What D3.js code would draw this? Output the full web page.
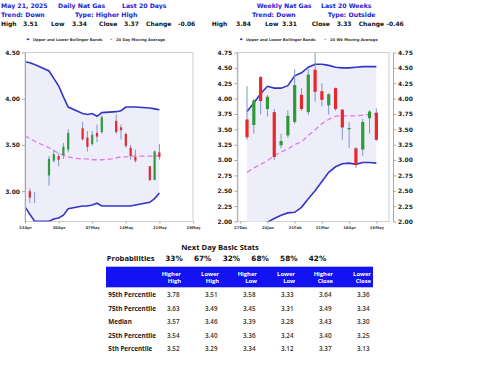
<!DOCTYPE html>
<html>
<head>
<meta charset="utf-8">
<script src="https://cdn.jsdelivr.net/npm/d3@7"></script>
<style>
  body { margin: 0; background: #fff; }
  svg { display: block; font-family: "DejaVu Sans", Verdana, sans-serif; }
</style>
</head>
<body>
<script>
// daily candles (last 20 days)
const dailyDates = ['2025-04-23','2025-04-24','2025-04-25','2025-04-28','2025-04-29','2025-04-30','2025-05-01','2025-05-02',
  '2025-05-05','2025-05-06','2025-05-07','2025-05-08','2025-05-09','2025-05-12','2025-05-13','2025-05-14','2025-05-15',
  '2025-05-16','2025-05-19','2025-05-20','2025-05-21'];
const dailyOpen  = [3.05, 3.00, 2.92, 3.17, 3.33, 3.38, 3.39, 3.45, 3.68, 3.58, 3.51, 3.63, 3.64, 3.76, 3.69, 3.62, 3.47, 3.37, 3.27, 3.12, 3.42];
const dailyHigh  = [3.06, 3.03, 2.99, 3.38, 3.45, 3.41, 3.52, 3.67, 3.75, 3.65, 3.65, 3.72, 3.82, 3.83, 3.72, 3.63, 3.50, 3.45, 3.27, 3.44, 3.51];
const dailyLow   = [3.00, 2.87, 2.87, 3.06, 3.31, 3.27, 3.35, 3.42, 3.55, 3.43, 3.49, 3.53, 3.62, 3.62, 3.56, 3.47, 3.34, 3.31, 3.11, 3.12, 3.34];
const dailyClose = [3.02, 2.93, 2.92, 3.35, 3.40, 3.34, 3.48, 3.63, 3.56, 3.48, 3.61, 3.59, 3.80, 3.64, 3.66, 3.49, 3.38, 3.33, 3.12, 3.43, 3.37];
const dailyUpper = [4.40, 4.39, 4.37, 4.30, 4.22, 4.14, 4.02, 3.91, 3.84, 3.83, 3.84, 3.81, 3.85, 3.86, 3.87, 3.91, 3.91, 3.91, 3.90, 3.89, 3.88];
const dailyLower = [2.83, 2.75, 2.675, 2.675, 2.70, 2.71, 2.74, 2.81, 2.84, 2.84, 2.85, 2.87, 2.84, 2.84, 2.84, 2.84, 2.84, 2.85, 2.88, 2.92, 2.98];
const dailyMA    = [3.60, 3.57, 3.54, 3.47, 3.44, 3.41, 3.39, 3.37, 3.35, 3.35, 3.34, 3.34, 3.34, 3.36, 3.37, 3.37, 3.38, 3.38, 3.38, 3.38, 3.39];
const dailyTicks = ['2025-04-23','2025-04-30','2025-05-07','2025-05-14','2025-05-21','2025-05-28'];
const dailyYTicks = [3.00, 3.50, 4.00, 4.50];

// weekly candles (last 20 weeks)
const weeklyDates = ['2025-01-03','2025-01-10','2025-01-17','2025-01-24','2025-01-31','2025-02-07','2025-02-14','2025-02-21',
  '2025-02-28','2025-03-07','2025-03-14','2025-03-21','2025-03-28','2025-04-04','2025-04-11','2025-04-18','2025-04-25',
  '2025-05-02','2025-05-09','2025-05-16'];
const weeklyOpen  = [3.66, 3.57, 4.35, 3.83, 3.78, 3.24, 3.40, 3.62, 4.06, 3.78, 4.47, 4.12, 3.89, 4.17, 3.82, 3.50, 3.19, 3.17, 3.68, 3.77];
const weeklyHigh  = [4.20, 4.00, 4.37, 4.06, 3.83, 3.43, 3.81, 4.48, 4.17, 4.48, 4.82, 4.25, 4.09, 4.18, 3.83, 3.62, 3.21, 3.67, 3.81, 3.84];
const weeklyLow   = [3.33, 3.43, 3.74, 3.71, 3.00, 3.19, 3.36, 3.59, 3.80, 3.73, 3.95, 3.87, 3.74, 3.80, 3.33, 3.19, 2.87, 3.07, 3.43, 3.31];
const weeklyClose = [3.37, 3.97, 3.96, 4.03, 3.05, 3.31, 3.72, 4.22, 3.83, 4.39, 4.11, 3.98, 4.07, 3.83, 3.53, 3.52, 2.92, 3.62, 3.79, 3.33];
const weeklyUpper = [3.79, 3.93, 4.08, 4.20, 4.17, 4.17, 4.21, 4.37, 4.42, 4.51, 4.56, 4.56, 4.54, 4.51, 4.50, 4.50, 4.51, 4.52, 4.52, 4.52];
const weeklyLower = [1.62, 1.76, 1.88, 1.99, 2.05, 2.10, 2.14, 2.15, 2.23, 2.37, 2.50, 2.65, 2.80, 2.89, 2.94, 2.95, 2.93, 2.96, 2.96, 2.95];
const weeklyMA    = [2.80, 2.87, 2.93, 2.99, 3.07, 3.13, 3.18, 3.25, 3.30, 3.40, 3.49, 3.59, 3.66, 3.71, 3.72, 3.72, 3.72, 3.73, 3.74, 3.75];
const weeklyTicks = ['2024-12-27','2025-01-24','2025-02-21','2025-03-21','2025-04-18','2025-05-16'];
const weeklyYTicks = [2.00, 2.25, 2.50, 2.75, 3.00, 3.25, 3.50, 3.75, 4.00, 4.25, 4.50, 4.75];

// header figures
const dailyTitle = ['May 21, 2025', 'Daily Nat Gas', 'Last 20 Days', 'Trend: Down', 'Type: Higher High'];
const weeklyTitle = ['Weekly Nat Gas', 'Last 20 Weeks', 'Trend: Down', 'Type: Outside'];
const dailySummary = [['High', '3.51'], ['Low', '3.34'], ['Close', '3.37'], ['Change', '-0.06']];
const weeklySummary = [['High', '3.84'], ['Low', '3.31'], ['Close', '3.33'], ['Change', '-0.46']];

// next day stats
const probabilities = ['33%', '67%', '32%', '68%', '58%', '42%'];
const statColumns = [['Higher', 'High'], ['Lower', 'High'], ['Higher', 'Low'], ['Lower', 'Low'], ['Higher', 'Close'], ['Lower', 'Close']];
const statRows = ['95th Percentile', '75th Percentile', 'Median', '25th Percentile', '5th Percentile'];
const statValues = [
  ['3.78', '3.51', '3.58', '3.33', '3.64', '3.36'],
  ['3.63', '3.49', '3.45', '3.31', '3.49', '3.34'],
  ['3.57', '3.46', '3.39', '3.28', '3.43', '3.30'],
  ['3.54', '3.40', '3.36', '3.24', '3.40', '3.25'],
  ['3.52', '3.29', '3.34', '3.12', '3.37', '3.13']
];

const blue = '#2222d8';
const parse = d3.timeParse('%Y-%m-%d');
const fmtDay = d3.timeFormat('%d%b');

const svg = d3.select('body').append('svg')
  .attr('width', 480)
  .attr('height', 371);

function styleAxis(g, size) {
  g.attr('font-family', null).attr('font-size', null);
  g.selectAll('.domain').attr('stroke', '#a8a8a8');
  g.selectAll('.tick line').attr('stroke', '#a8a8a8');
  g.selectAll('.tick text')
    .attr('fill', '#222')
    .style('font-size', size + 'px')
    .style('font-weight', 'bold');
}

function panel(o) {
  const dates = o.dates.map(parse);
  const idx = d3.range(dates.length);
  const x = d3.scaleTime().domain(o.xDomain.map(parse)).range([o.left, o.right]);
  const y = d3.scaleLinear().domain(o.yDomain).range([o.bottom, o.top]);

  svg.append('clipPath').attr('id', o.id)
    .append('rect')
    .attr('x', o.left).attr('y', o.top)
    .attr('width', o.right - o.left).attr('height', o.bottom - o.top);

  svg.append('rect')
    .attr('x', o.left).attr('y', o.top)
    .attr('width', o.right - o.left).attr('height', o.bottom - o.top)
    .attr('fill', '#fff')
    .attr('stroke', '#cfcfcf')
    .attr('stroke-width', 1);

  const plot = svg.append('g').attr('clip-path', 'url(#' + o.id + ')');

  plot.append('path').datum(idx)
    .attr('d', d3.area().x(i => x(dates[i])).y0(i => y(o.lower[i])).y1(i => y(o.upper[i])))
    .attr('fill', '#eeeefb');

  [o.upper, o.lower].forEach(band => {
    plot.append('path').datum(idx)
      .attr('d', d3.line().x(i => x(dates[i])).y(i => y(band[i])))
      .attr('fill', 'none')
      .attr('stroke', '#3434c6')
      .attr('stroke-width', 1.6);
  });

  plot.append('path').datum(idx)
    .attr('d', d3.line().curve(d3.curveMonotoneX).x(i => x(dates[i])).y(i => y(o.ma[i])))
    .attr('fill', 'none')
    .attr('stroke', '#e27ae6')
    .attr('stroke-width', 1.3)
    .attr('stroke-dasharray', '5,3');

  plot.selectAll('.wick').data(idx).join('line')
    .attr('class', 'wick')
    .attr('x1', i => x(dates[i])).attr('x2', i => x(dates[i]))
    .attr('y1', i => y(o.high[i])).attr('y2', i => y(o.low[i]))
    .attr('stroke', '#7c98c8')
    .attr('stroke-width', 1);

  plot.selectAll('.body').data(idx).join('rect')
    .attr('class', 'body')
    .attr('x', i => x(dates[i]) - o.bodyW / 2)
    .attr('width', o.bodyW)
    .attr('y', i => y(Math.max(o.open[i], o.close[i])))
    .attr('height', i => Math.abs(y(o.open[i]) - y(o.close[i])))
    .attr('fill', i => o.close[i] >= o.open[i] ? '#2f9a3c' : '#e8262b');

  const yFmt = d3.format('.2f');
  if (o.leftAxis) {
    svg.append('g')
      .attr('transform', 'translate(' + o.left + ',0)')
      .call(d3.axisLeft(y).tickValues(o.yTicks).tickFormat(yFmt).tickSize(3).tickSizeOuter(0).tickPadding(2))
      .call(g => styleAxis(g, 6));
  }
  if (o.rightAxis) {
    svg.append('g')
      .attr('transform', 'translate(' + o.rightAxis + ',0)')
      .call(d3.axisRight(y).tickValues(o.yTicks).tickFormat(yFmt).tickSize(3).tickSizeOuter(0).tickPadding(2))
      .call(g => styleAxis(g, 6));
  }
  svg.append('g')
    .attr('transform', 'translate(0,' + o.bottom + ')')
    .call(d3.axisBottom(x).tickValues(o.xTicks.map(parse)).tickFormat(fmtDay).tickSize(2).tickSizeOuter(0).tickPadding(3))
    .call(g => { styleAxis(g, 3.8); g.select('.domain').remove(); g.selectAll('.tick text').attr('fill', '#444'); });

  // legend
  svg.append('line')
    .attr('x1', o.legendX[0]).attr('x2', o.legendX[0] + 2.5)
    .attr('y1', 39.3).attr('y2', 39.3)
    .attr('stroke', '#3434c6').attr('stroke-width', 1.6);
  svg.append('line')
    .attr('x1', o.legendX[2]).attr('x2', o.legendX[2] + 1.6)
    .attr('y1', 39.3).attr('y2', 39.3)
    .attr('stroke', '#e27ae6').attr('stroke-width', 1.3);
  [[o.legendX[1], 'Upper and Lower Bollinger Bands'], [o.legendX[3], o.maLabel]].forEach(d => {
    svg.append('text')
      .attr('x', d[0]).attr('y', 40.6)
      .attr('fill', '#333')
      .style('font-size', '3.7px')
      .style('font-weight', 'bold')
      .text(d[1]);
  });
}

panel({
  id: 'clipDaily', left: 25, right: 193, top: 52.5, bottom: 221.5,
  xDomain: ['2025-04-23', '2025-05-28'], yDomain: [2.672, 4.5],
  dates: dailyDates, open: dailyOpen, high: dailyHigh, low: dailyLow, close: dailyClose,
  upper: dailyUpper, lower: dailyLower, ma: dailyMA,
  xTicks: dailyTicks, yTicks: dailyYTicks, bodyW: 2.2,
  leftAxis: true, rightAxis: null,
  legendX: [26.7, 33, 110.5, 116], maLabel: '20 Day Moving Average'
});

panel({
  id: 'clipWeekly', left: 237.3, right: 389, top: 52.5, bottom: 221.5,
  xDomain: ['2024-12-24', '2025-05-29'], yDomain: [2.0, 4.75],
  dates: weeklyDates, open: weeklyOpen, high: weeklyHigh, low: weeklyLow, close: weeklyClose,
  upper: weeklyUpper, lower: weeklyLower, ma: weeklyMA,
  xTicks: weeklyTicks, yTicks: weeklyYTicks, bodyW: 3.2,
  leftAxis: true, rightAxis: 393,
  legendX: [240, 246, 324.5, 330], maLabel: '20 Wk Moving Average'
});

// title block
function label(x, y, txt, color, size) {
  return svg.append('text')
    .attr('x', x).attr('y', y)
    .attr('fill', color)
    .style('font-size', size + 'px')
    .style('font-weight', 'bold')
    .text(txt);
}
[[1, 8], [58, 8], [122, 8], [1, 16.6], [75, 16.6]].forEach((p, i) => label(p[0], p[1], dailyTitle[i], blue, 6.2));
[[256.7, 8], [321, 8], [252, 16.6], [327.7, 16.6]].forEach((p, i) => label(p[0], p[1], weeklyTitle[i], blue, 6.2));

const dailySumX = [[1, 23], [51, 72], [99, 124], [146, 178]];
const weeklySumX = [[211.7, 236], [265, 282], [311.7, 336.7], [358.7, 386.5]];
dailySummary.forEach((d, i) => {
  label(dailySumX[i][0], 25.6, d[0], '#111', 6);
  label(dailySumX[i][1], 25.6, d[1], '#111', 6);
});
weeklySummary.forEach((d, i) => {
  label(weeklySumX[i][0], 25.6, d[0], '#111', 6);
  label(weeklySumX[i][1], 25.6, d[1], '#111', 6);
});

// stats table
const table = svg.append('g').style('font-family', '"Open Sans", sans-serif');

table.append('text')
  .attr('x', 220).attr('y', 250)
  .attr('text-anchor', 'middle')
  .attr('fill', '#111')
  .style('font-size', '7.6px').style('font-weight', 'bold')
  .text('Next Day Basic Stats');

table.append('text')
  .attr('x', 106.7).attr('y', 261)
  .attr('fill', '#111')
  .style('font-size', '7.6px').style('font-weight', 'bold')
  .text('Probabilities');

const probX = d3.scaleLinear().domain([0, 5]).range([174, 317.5]);
table.selectAll('.prob').data(probabilities).join('text')
  .attr('class', 'prob')
  .attr('x', (d, i) => probX(i)).attr('y', 261)
  .attr('text-anchor', 'middle')
  .attr('fill', '#111')
  .style('font-family', '"DejaVu Sans", sans-serif')
  .style('font-size', '7.3px').style('font-weight', 'bold')
  .text(d => d);

table.append('rect')
  .attr('x', 106).attr('y', 266.7)
  .attr('width', 267).attr('height', 20.6)
  .attr('fill', '#1212f2');

const colX = d3.scaleLinear().domain([0, 5]).range([181, 371]);
statColumns.forEach((c, i) => {
  c.forEach((w, j) => {
    table.append('text')
      .attr('x', colX(i)).attr('y', 276.4 + j * 6.6)
      .attr('text-anchor', 'end')
      .attr('fill', '#fff')
      .style('font-size', '5.8px').style('font-weight', 'bold')
      .text(w);
  });
});

const rowY = d3.scaleLinear().domain([0, 4]).range([297, 351]);
statRows.forEach((r, i) => {
  table.append('text')
    .attr('x', 108.3).attr('y', rowY(i))
    .attr('fill', '#222')
    .style('font-size', '6.3px').style('font-weight', 'bold')
    .text(r);
  statValues[i].forEach((v, j) => {
    table.append('text')
      .attr('x', colX(j) - 1.5).attr('y', rowY(i))
      .attr('text-anchor', 'end')
      .attr('fill', '#333')
      .style('font-size', '6.3px').style('font-weight', '600')
      .text(v);
  });
});
</script>
</body>
</html>
